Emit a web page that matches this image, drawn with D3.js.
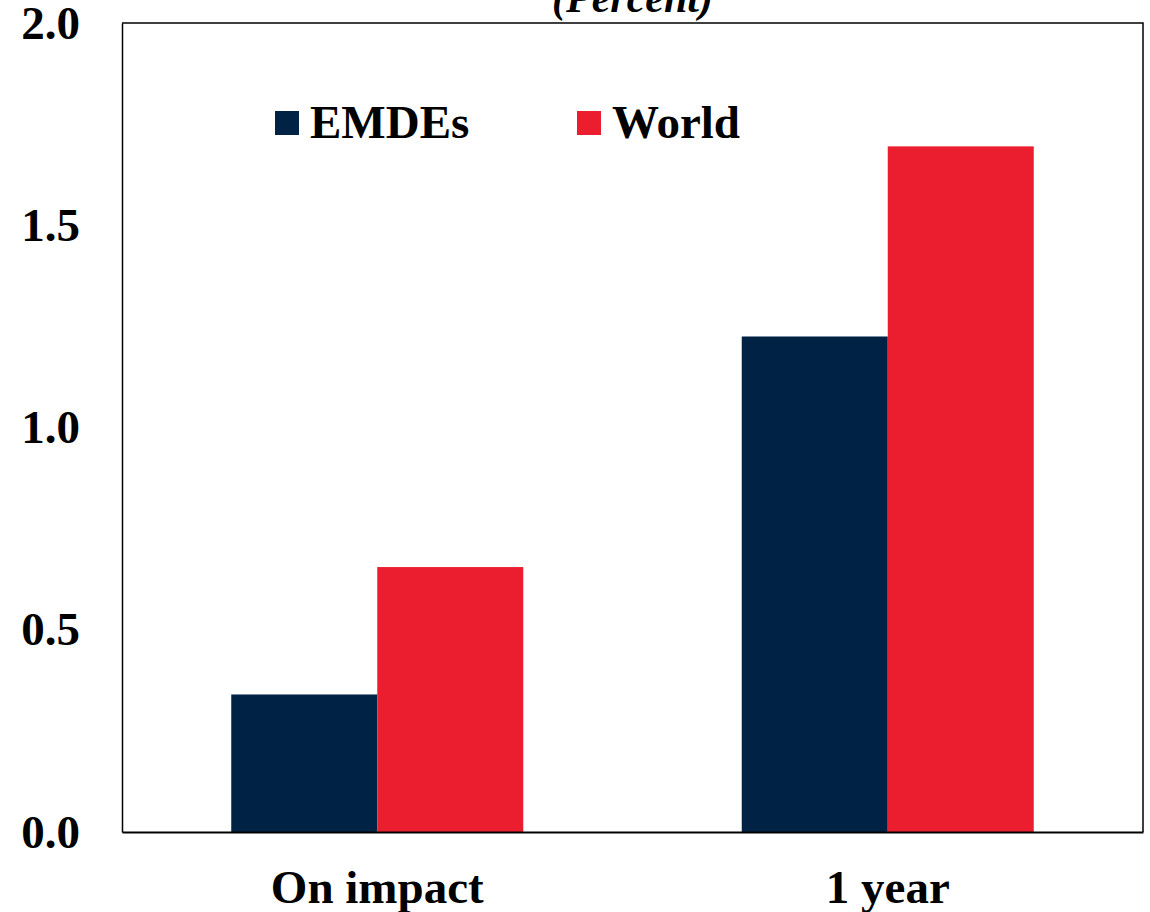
<!DOCTYPE html>
<html>
<head>
<meta charset="utf-8">
<script src="https://cdn.jsdelivr.net/npm/d3@7"></script>
<style>
  html, body { margin: 0; padding: 0; background: #fff; }
  svg { display: block; }
  text { font-family: "Liberation Serif", "Times New Roman", serif; font-weight: bold; fill: #000; }
</style>
</head>
<body>
<svg id="chart" width="1150" height="912"></svg>
<script>
// Horizons and series
const categories = ["On impact", "1 year"];
const seriesNames = ["EMDEs", "World"];
const emdesValues = [0.34, 1.225];
const worldValues = [0.655, 1.695];
const seriesColors = ["#002345", "#EB1E2F"];
const yTickValues = [0, 0.5, 1.0, 1.5, 2.0];
const titleText = "(Percent)";

const svg = d3.select("#chart");
const margin = { left: 122, right: 7, top: 23, bottom: 80 };
const width = 1150 - margin.left - margin.right;
const height = 912 - margin.top - margin.bottom;

const g = svg.append("g").attr("transform", `translate(${margin.left},${margin.top})`);

const x0 = d3.scaleBand().domain(categories).range([0, width])
  .paddingInner(0.428).paddingOuter(0.214);
const x1 = d3.scaleBand().domain(seriesNames).range([0, x0.bandwidth()]).padding(0);
const y = d3.scaleLinear().domain([0, 2]).range([height, 0]);

const rows = categories.map((c, i) => ({
  category: c,
  values: [
    { name: seriesNames[0], value: emdesValues[i] },
    { name: seriesNames[1], value: worldValues[i] }
  ]
}));
const color = d3.scaleOrdinal().domain(seriesNames).range(seriesColors);

// Bars
g.selectAll("g.group").data(rows).join("g")
  .attr("class", "group")
  .attr("transform", d => `translate(${x0(d.category)},0)`)
  .selectAll("rect").data(d => d.values).join("rect")
  .attr("x", d => x1(d.name))
  .attr("y", d => y(d.value))
  .attr("width", x1.bandwidth())
  .attr("height", d => height - y(d.value))
  .attr("fill", d => color(d.name));

// Plot frame (top and right)
g.append("path")
  .attr("d", `M0,0H${width}V${height}`)
  .attr("fill", "none").attr("stroke", "#000").attr("stroke-width", 1.5);

// Y axis
const yAxis = g.append("g").call(
  d3.axisLeft(y).tickValues(yTickValues).tickFormat(d3.format(".1f")).tickSize(0).tickPadding(42)
);
yAxis.select(".domain").attr("stroke", "#000").attr("stroke-width", 1.5);
yAxis.selectAll("text")
  .style("font-family", "'Liberation Serif', 'Times New Roman', serif")
  .style("font-weight", "bold").style("font-size", "47px").attr("fill", "#000");

// X axis
const xAxis = g.append("g").attr("transform", `translate(0,${height})`).call(
  d3.axisBottom(x0).tickSize(0).tickPadding(38)
);
xAxis.select(".domain").attr("stroke", "#000").attr("stroke-width", 2);
xAxis.selectAll("text")
  .style("font-family", "'Liberation Serif', 'Times New Roman', serif")
  .style("font-weight", "bold").style("font-size", "47px").attr("fill", "#000");

// Title (units)
svg.append("text")
  .attr("x", margin.left + width / 2).attr("y", 12)
  .attr("text-anchor", "middle")
  .style("font-size", "42px").style("font-style", "italic")
  .text(titleText);

// Legend
const legendX = [275, 577];
const legend = svg.selectAll("g.legend").data(seriesNames).join("g")
  .attr("class", "legend")
  .attr("transform", (d, i) => `translate(${legendX[i]},111)`);
legend.append("rect").attr("width", 24).attr("height", 24).attr("fill", d => color(d));
legend.append("text").attr("x", 35).attr("y", 27)
  .style("font-size", "47px").text(d => d);
</script>
</body>
</html>
